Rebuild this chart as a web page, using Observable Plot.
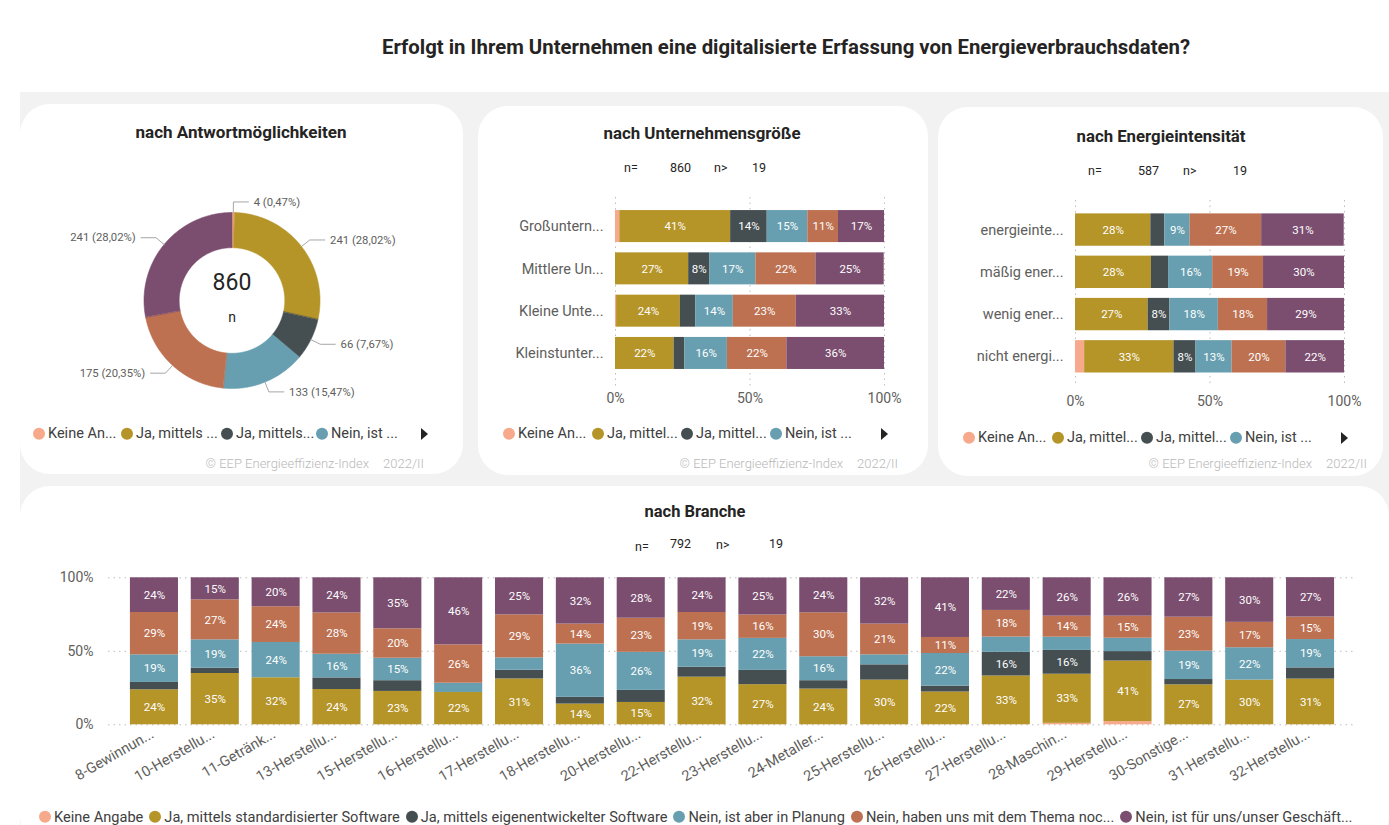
<!DOCTYPE html>
<html lang="de"><head><meta charset="utf-8">
<script src="https://cdn.jsdelivr.net/npm/d3@7"></script>
<script src="https://cdn.jsdelivr.net/npm/@observablehq/plot@0.6"></script>
<style>
html,body{margin:0;padding:0}
body{width:1389px;height:825px;overflow:hidden;background:#fff;position:relative;font-family:Roboto,"Open Sans",sans-serif;color:#252423}
.a{position:absolute;white-space:nowrap;line-height:1}
.box{position:absolute}
.lg{position:absolute;display:flex;align-items:center;white-space:nowrap;line-height:1;color:#404040}
.dot{display:inline-block;width:12px;height:12px;border-radius:50%;margin-right:3px;flex:none}
.arrow{position:absolute;width:0;height:0;border-top:6px solid transparent;border-bottom:6px solid transparent;border-left:7px solid #252423}
svg{overflow:visible}
</style></head><body>
<script>
// ---------- data ----------
const series = ["Keine Angabe","Ja, mittels standardisierter Software","Ja, mittels eigenentwickelter Software","Nein, ist aber in Planung","Nein, haben uns mit dem Thema noc...","Nein, ist für uns/unser Geschäft..."];
const colors = ["#F7A98B","#B59428","#454F52","#689FB0","#BD7151","#7B4E70"];
const legendShort1 = ["Keine An...","Ja, mittels ...","Ja, mittels...","Nein, ist ..."];
const legendShort2 = ["Keine An...","Ja, mittel...","Ja, mittel...","Nein, ist ..."];
const ticksPct = [0,50,100];

// donut: counts per answer
const donutCounts = [4,241,66,133,175,241];

// company size (% per answer)
const sizeCats  = ["Großuntern...","Mittlere Un...","Kleine Unte...","Kleinstunter..."];
const sizeKeine = [1.6,0,0.4,0];
const sizeStd   = [41.2,27.2,23.7,21.8];
const sizeEigen = [13.6,7.8,5.7,4.0];
const sizePlan  = [15.1,17.2,14.0,15.8];
const sizeThema = [11.4,22.3,23.4,22.1];
const sizeGesch = [17.1,25.4,32.8,36.3];

// energy intensity
const enCats  = ["energieinte...","mäßig ener...","wenig ener...","nicht energi..."];
const enKeine = [0,0,0,3.4];
const enStd   = [28.0,28.2,27.0,33.2];
const enEigen = [5.2,6.4,8.1,8.2];
const enPlan  = [9.4,16.4,18.0,13.4];
const enThema = [26.6,18.9,18.3,20.0];
const enGesch = [30.7,30.1,28.6,21.8];

// branch
const brCats  = ["8-Gewinnun...","10-Herstellu...","11-Getränk...","13-Herstellu...","15-Herstellu...","16-Herstellu...","17-Herstellu...","18-Herstellu...","20-Herstellu...","22-Herstellu...","23-Herstellu...","24-Metaller...","25-Herstellu...","26-Herstellu...","27-Herstellu...","28-Maschin...","29-Herstellu...","30-Sonstige...","31-Herstellu...","32-Herstellu..."];
const brKeine = [0,0,0,0,0,0,0,0,0,0,0,0,0,0,0,1.0,2.2,0,0,0];
const brStd   = [23.8,34.9,32.0,24.0,22.7,22.0,31.2,14.1,15.2,32.4,27.3,24.3,30.4,22.3,33.2,33.4,41.2,27.2,30.4,31.1];
const brEigen = [5.0,3.6,0,7.9,7.3,0,5.9,4.6,8.2,6.8,9.7,5.7,10.4,4.0,16.1,16.2,6.4,3.6,0,7.6];
const brPlan  = [18.8,19.3,24.0,16.1,15.3,6.3,8.4,36.2,25.9,18.6,21.8,16.3,6.8,22.2,10.4,9.0,9.1,19.3,22.0,19.3];
const brThema = [28.8,27.2,24.3,28.1,20.0,26.1,29.3,13.6,23.2,18.6,15.9,29.9,20.9,10.9,18.1,14.3,15.0,23.1,17.3,15.3];
const brGesch = [23.6,15.0,19.7,23.9,34.7,45.6,25.2,31.5,27.6,23.6,25.2,23.8,31.5,40.6,22.2,26.1,26.1,26.8,30.3,26.8];

const nSize = 860, nEnergy = 587, nBranch = 792, nMin = 19;

// ---------- helpers ----------
const color = {domain: series, range: colors};
function el(cls, css){const d=document.createElement("div");d.className=cls;Object.assign(d.style,css);document.body.appendChild(d);return d;}
function T(x,y,s,o={}){
  const d=el("a",{left:x+"px",top:y+"px",fontSize:(o.fs||12)+"px",fontWeight:o.fw||400,color:o.c||"#252423"});
  d.textContent=s;
  const tx=o.anchor==="middle"?"-50%":o.anchor==="end"?"-100%":"0";
  d.style.transform=`translate(${tx},-50%)`;
  return d;
}
function fitW(d,target){for(let k=0;k<3;k++){const w=d.getBoundingClientRect().width;const fs=parseFloat(d.style.fontSize);d.style.fontSize=(fs*target/w)+"px";}}
function longRows(cats, cols){const rows=[];cats.forEach((c,i)=>cols.forEach((col,j)=>rows.push({cat:c,s:series[j],v:col[i]})));return rows;}
const pctLabel = th => d => d.v>=th ? Math.round(d.v)+"%" : "";
const baseStyle = {fontFamily:"Roboto, sans-serif", fontSize:"14px", color:"#605E5C", background:"transparent", overflow:"visible"};

// ---------- background & cards ----------
el("box",{left:"20px",top:"92px",width:"1369px",height:"733px",background:"#F2F2F2"});
el("box",{left:"20px",top:"104px",width:"443px",height:"370px",background:"#fff",borderRadius:"30px"});
el("box",{left:"478px",top:"106px",width:"450px",height:"369px",background:"#fff",borderRadius:"30px"});
el("box",{left:"938px",top:"107px",width:"445px",height:"369px",background:"#fff",borderRadius:"30px"});
el("box",{left:"20px",top:"486px",width:"1369px",height:"360px",background:"#fff",borderRadius:"30px"});

// ---------- titles ----------
const mt = T(786,47,"Erfolgt in Ihrem Unternehmen eine digitalisierte Erfassung von Energieverbrauchsdaten?",{fs:17.5,fw:700,anchor:"middle"});
fitW(mt,808);
const t1=T(241,133,"nach Antwortmöglichkeiten",{fs:15.5,fw:700,anchor:"middle"}); fitW(t1,211);
const t2=T(702,133,"nach Unternehmensgröße",{fs:15.5,fw:700,anchor:"middle"}); fitW(t2,197);
const t3=T(1161,136,"nach Energieintensität",{fs:15.5,fw:700,anchor:"middle"}); fitW(t3,169);
const t4=T(695,512,"nach Branche",{fs:15.5,fw:700,anchor:"middle"}); fitW(t4,101);

// n= texts
function nBlock(xs,ys,n){T(xs[0],ys[0],"n=",{fs:12.5});T(xs[1],ys[1],String(n),{fs:12.5});T(xs[2],ys[2],"n>",{fs:12.5});T(xs[3],ys[3],String(nMin),{fs:12.5});}
nBlock([624,670,714,752],[168,168,168,168],nSize);
nBlock([1088,1138,1183,1233],[171,171,171,171],nEnergy);
nBlock([635,670,716,769],[547,544,545,544],nBranch);

// footers
function footer(xEnd,y){const d=el("a",{left:xEnd+"px",top:y+"px",fontSize:"13px",fontWeight:300,color:"#B8B8B8",transform:"translate(-100%,-50%)"});d.innerHTML="© EEP Energieeffizienz-Index<span style='margin-left:14px'>2022/II</span>";}
footer(424,463);footer(898,463);footer(1367,463);

// top legends
function smallLegend(xs,y,labels,arrowX){
  labels.forEach((l,i)=>{const d=el("lg",{left:(xs[i]-6)+"px",top:y+"px",fontSize:"14.5px",transform:"translateY(-50%)"});
    d.innerHTML=`<span class="dot" style="background:${colors[i]}"></span>${l}`;});
  el("arrow",{left:(arrowX-3)+"px",top:(y-6)+"px"});
}
smallLegend([39,127,227,322],434,legendShort1,424);
smallLegend([509,598,687,776],434,legendShort2,884);
smallLegend([969,1058,1147,1236],438,legendShort2,1344);

// bottom legend
const bl = el("lg",{left:"39px",top:"817px",fontSize:"12px",gap:"6px",transform:"translateY(-50%)"});
bl.innerHTML = series.map((s,i)=>`<span style="display:flex;align-items:center"><span class="dot" style="background:${colors[i]}"></span>${s}</span>`).join("");
fitW(bl,1313);

// ---------- donut ----------
const total = d3.sum(donutCounts);
const R0 = 0.6;
const pie = d3.pie().sort(null)(donutCounts);
const slicePts = [];
pie.forEach((p,i)=>{
  const n=Math.max(2,Math.ceil((p.endAngle-p.startAngle)/0.01));
  const outer=[],inner=[];
  for(let k=0;k<=n;k++){const a=p.startAngle+(p.endAngle-p.startAngle)*k/n;
    outer.push({s:series[i],x:Math.sin(a),y:Math.cos(a)});
    inner.push({s:series[i],x:R0*Math.sin(a),y:R0*Math.cos(a)});}
  slicePts.push(...outer,...inner.reverse());
});
const leaders=[], dLabels=[];
pie.forEach((p,i)=>{
  const m=(p.startAngle+p.endAngle)/2, sx=Math.sin(m), sy=Math.cos(m), side=sx>=0?1:-1;
  const ex=1.12*sx, ey=1.12*sy;
  leaders.push({k:i,x:sx,y:sy},{k:i,x:ex,y:ey},{k:i,x:ex+side*0.17,y:ey});
  const pct=(p.value/total*100).toFixed(2).replace(".",",");
  dLabels.push({x:ex+side*0.23,y:ey,side,text:`${p.value} (${pct}%)`});
});
const U=88, DW=443, DH=235, cx=211.5, cy=120;
const donut = Plot.plot({
  width:DW,height:DH,margin:0,style:baseStyle,
  x:{domain:[-cx/U,(DW-cx)/U],axis:null},
  y:{domain:[-(DH-cy)/U,cy/U],axis:null},
  color,
  marks:[
    Plot.line(slicePts,{x:"x",y:"y",z:"s",fill:"s",stroke:"s",strokeWidth:0.6,curve:"linear-closed"}),
    Plot.line(leaders,{x:"x",y:"y",z:"k",stroke:"#A6A6A6",strokeWidth:1}),
    Plot.text(dLabels,{filter:d=>d.side>0,x:"x",y:"y",text:"text",textAnchor:"start",fontSize:11.3,fill:"#605E5C"}),
    Plot.text(dLabels,{filter:d=>d.side<0,x:"x",y:"y",text:"text",textAnchor:"end",fontSize:11.3,fill:"#605E5C"}),
    Plot.text([String(total)],{x:d=>0,y:d=>0.2,text:d=>d,fontSize:23,fill:"#252423"}),
    Plot.text(["n"],{x:d=>0,y:d=>-0.19,text:d=>d,fontSize:14,fill:"#252423"})
  ]
});
const dw=el("box",{left:"20px",top:"180px"}); dw.appendChild(donut);

// ---------- horizontal stacked bars ----------
function hchart(cats, cols, o){
  const rows=longRows(cats,cols);
  return Plot.plot({
    width:o.w,height:o.h,marginLeft:o.ml,marginRight:o.mr,marginTop:o.mt,marginBottom:o.mb,style:baseStyle,
    x:{domain:[0,100],label:null},
    y:{domain:cats,label:null,paddingInner:o.pi,paddingOuter:o.po,align:o.al,round:false},
    color,
    marks:[
      Plot.ruleX(ticksPct,{stroke:"#BDBDBD",strokeDasharray:"1.5,4"}),
      Plot.barX(rows,{x:"v",y:"cat",fill:"s"}),
      Plot.text(rows,Plot.stackX({x:"v",y:"cat",z:"s",text:pctLabel(7.5),fill:"white",fontSize:11.5})),
      Plot.axisX({ticks:ticksPct,tickFormat:d=>d+"%",tickSize:0,tickPadding:o.tp}),
      Plot.axisY({tickSize:0,tickPadding:12,fontSize:14.5})
    ]
  });
}
const c2=hchart(sizeCats,[sizeKeine,sizeStd,sizeEigen,sizePlan,sizeThema,sizeGesch],
  {w:460,h:230,ml:140,mr:51,mt:12,mb:28,pi:0.243,po:0.3675,al:0.42,tp:6});
el("box",{left:"475px",top:"185px"}).appendChild(c2);
const c3=hchart(enCats,[enKeine,enStd,enEigen,enPlan,enThema,enGesch],
  {w:454,h:230,ml:140,mr:45,mt:15,mb:28,pi:0.234,po:0.33,al:0.48,tp:9});
el("box",{left:"935px",top:"185px"}).appendChild(c3);

// ---------- branch chart ----------
const brRows=longRows(brCats,[brKeine,brStd,brEigen,brPlan,brThema,brGesch]);
const c4=Plot.plot({
  width:1389,height:240,marginLeft:108,marginRight:33,marginTop:17.3,marginBottom:75.7,style:baseStyle,
  x:{domain:brCats,label:null,paddingInner:0.21,paddingOuter:0.36,round:false},
  y:{domain:[0,100],label:null},
  color,
  marks:[
    Plot.ruleY(ticksPct,{stroke:"#BDBDBD",strokeDasharray:"1.5,4"}),
    Plot.barY(brRows,{x:"cat",y:"v",fill:"s"}),
    Plot.text(brRows,Plot.stackY({x:"cat",y:"v",z:"s",text:pctLabel(10.5),fill:"white",fontSize:11.5})),
    Plot.axisY({ticks:ticksPct,tickFormat:d=>d+"%",tickSize:0,tickPadding:15}),
    Plot.axisX({tickSize:0,tickPadding:8,tickRotate:-30,fontSize:14.5,dx:-2})
  ]
});
el("box",{left:"0px",top:"560px"}).appendChild(c4);
</script>
</body></html>
